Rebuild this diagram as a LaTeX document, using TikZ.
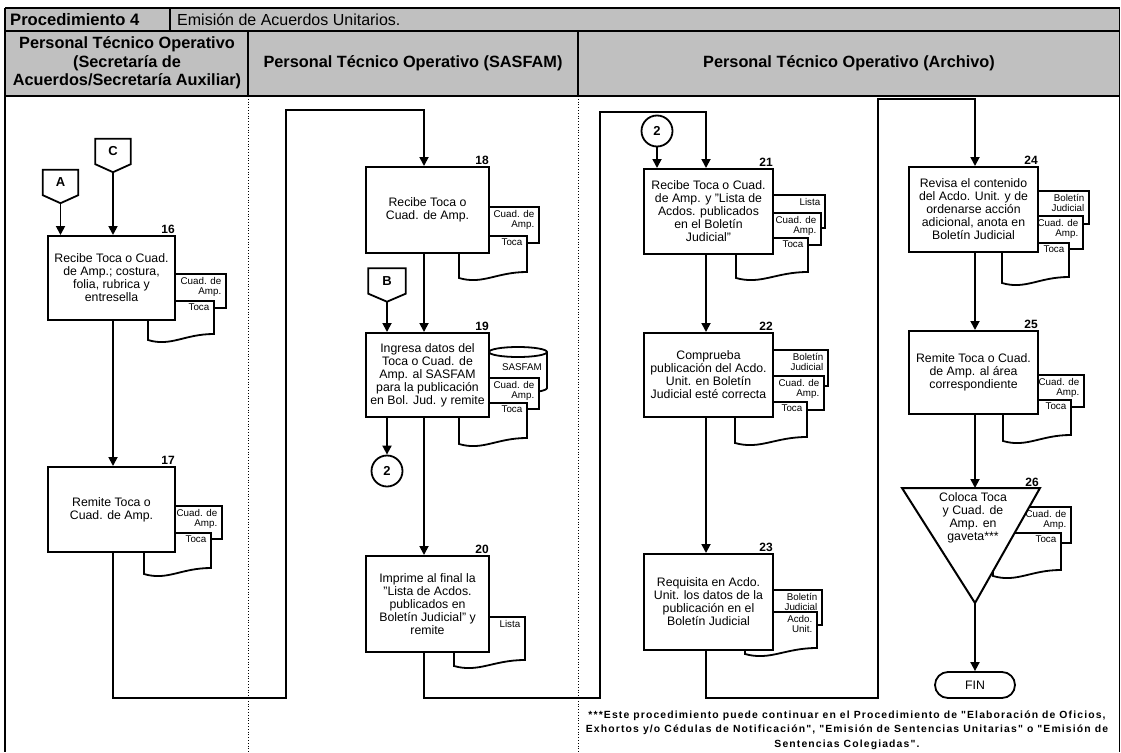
\documentclass[tikz,border=0pt]{standalone}
\usepackage{fontspec}
\setmainfont{Liberation Sans}
\newfontfamily\notefont[LetterSpace=11]{Liberation Sans}
\usetikzlibrary{arrows.meta,calc}

% document symbol with a wavy bottom edge: name, x1, y1, x2, left-bottom y, label
\newcommand{\frontdoc}[6]{%
  \draw[docline] (#2,#3) -- (#4,#3) -- (#4,{#5-6})
    .. controls ({#2+0.55*(#4-#2)},{#5-6}) and ({#2+0.35*(#4-#2)},{#5+7}) .. (#2,#5) -- cycle;
  \node[doclabel] (#1) at ({#4-4.5},{#3+3}) {#6};
}
% document lying behind another one (only its upper part shows)
\newcommand{\backdoc}[6]{%
  \draw[docline] (#2,#3) rectangle (#4,#5);
  \node[doclabel] (#1) at ({#4-4.5},{#3+3}) {#6};
}
% off-page connector: name, centre x, centre y, width, letter
\newcommand{\offpage}[5]{%
  \node[conn, minimum width=#4pt] (#1) at (#2,#3) {#5};
  \coordinate (#1-tip) at ($(#1.south)+(0,8)$);
  \draw[line width=1.8pt] (#1.north west) -- (#1.north east) -- (#1.south east) -- (#1-tip) -- (#1.south west) -- cycle;
}

\tikzset{
  hdrfill/.style={fill=hdrgray},
  frame/.style={line width=1.8pt},
  lanesep/.style={line width=0.8pt, dotted},
  box/.style={draw, line width=2pt, fill=white, align=center, inner sep=1pt,
    font=\fontsize{12.3}{13}\selectfont},
  num/.style={anchor=south east, inner sep=1pt, font=\bfseries\fontsize{12}{13}\selectfont},
  flow/.style={line width=1.8pt, -{Triangle[width=9pt,length=9pt]}},
  shapeline/.style={line width=1.8pt, fill=white},
  docline/.style={line width=1.8pt, fill=white},
  doclabel/.style={anchor=north east, inner sep=0pt, align=right,
    font=\fontsize{9.8}{10.5}\selectfont},
  conn/.style={minimum height=25pt, inner sep=0pt, font=\bfseries\fontsize{13}{14}\selectfont},
  onpage/.style={draw, circle, line width=1.8pt, fill=white, minimum size=31pt, inner sep=0pt,
    font=\bfseries\fontsize{13}{14}\selectfont},
  lanehead/.style={align=center, font=\bfseries\fontsize{16.3}{18.4}\selectfont},
}
\definecolor{hdrgray}{RGB}{192,192,192}

\begin{document}
\begin{tikzpicture}[x=1pt,y=-1pt]
\useasboundingbox (0,0) rectangle (1121,752);

% ---------- header ----------
\fill[hdrfill] (5,8) rectangle (1119.5,96);
\draw[frame] (5,8) -- (1119.5,8);
\draw[frame] (5,31) -- (1119.5,31);
\draw[frame] (5,96) -- (1119.5,96);
\draw[frame] (5,8) -- (5,752);
\draw[frame] (1119.5,8) -- (1119.5,752);
\draw[frame] (170,8) -- (170,31);
\draw[frame] (248,31) -- (248,96);
\draw[frame] (578,31) -- (578,96);
\draw[lanesep] (248,96) -- (248,752);
\draw[lanesep] (578,96) -- (578,752);

\node[anchor=west, inner sep=0pt, font=\bfseries\fontsize{16.6}{18}\selectfont] (proc) at (10,19.5) {Procedimiento 4};
\node[anchor=west, inner sep=0pt, font=\fontsize{16}{18}\selectfont] (title) at (177,19.5) {Emisión de Acuerdos Unitarios.};
\node[lanehead] (lane1) at (127,63) {Personal Técnico Operativo\\(Secretaría de\\Acuerdos/Secretaría Auxiliar)};
\node[lanehead] (lane2) at (413,63.5) {Personal Técnico Operativo (SASFAM)};
\node[lanehead] (lane3) at (849,63.5) {Personal Técnico Operativo (Archivo)};

% vertical guides of the flow lines
\coordinate (v1) at (113,0);
\coordinate (v2) at (424,0);
\coordinate (v3) at (706,0);
\coordinate (v4) at (975,0);

% ---------- documents (drawn first, the activities cover them) ----------
\backdoc{d16a}{150}{274}{226}{308}{Cuad. de\\Amp.}
\frontdoc{d16b}{148}{301}{214}{340}{Toca}
\backdoc{d17a}{150}{506}{222}{539}{Cuad. de\\Amp.}
\frontdoc{d17b}{144}{533}{211}{574}{Toca}
\backdoc{d18a}{470}{207}{539}{243}{Cuad. de\\Amp.}
\frontdoc{d18b}{459}{236}{527}{278}{Toca}
% database cylinder
\draw[docline] (489,352) -- (489,388) arc[start angle=180, end angle=360, x radius=29pt, y radius=5pt]
  -- (547,352) arc[start angle=0, end angle=180, x radius=29pt, y radius=5pt] -- cycle;
\draw[line width=1.8pt] (489,352) arc[start angle=180, end angle=360, x radius=29pt, y radius=5pt];
\node[doclabel, anchor=center] (db19) at (522,367) {SASFAM};
\backdoc{d19a}{470}{378}{539}{409}{Cuad. de\\Amp.}
\frontdoc{d19b}{459}{403}{527}{444}{Toca}
\frontdoc{d20}{454}{617}{525}{666}{Lista}
\backdoc{d21a}{750}{195}{825}{228}{Lista}
\backdoc{d21b}{750}{213}{821}{245}{Cuad. de\\Amp.}
\frontdoc{d21c}{736}{238}{808}{278}{Toca}
\backdoc{d22a}{750}{350}{828}{386}{Boletín\\Judicial}
\backdoc{d22b}{750}{376}{824}{410}{Cuad. de\\Amp.}
\frontdoc{d22c}{735}{402}{807}{443}{Toca}
\backdoc{d23a}{750}{590}{822}{625}{Boletín\\Judicial}
\frontdoc{d23b}{745}{612}{817}{654}{Acdo.\\Unit.}
\backdoc{d24a}{1010}{191}{1089}{224}{Boletín\\Judicial}
\backdoc{d24b}{1010}{216}{1083}{249}{Cuad. de\\Amp.}
\frontdoc{d24c}{1002}{243}{1069}{283}{Toca}
\backdoc{d25a}{1010}{375}{1084}{407}{Cuad. de\\Amp.}
\frontdoc{d25b}{1003}{400}{1071}{441}{Toca}
\backdoc{d26a}{1000}{507}{1071}{543}{Cuad. de\\Amp.}
\frontdoc{d26b}{993}{533}{1061}{576}{Toca}

% ---------- activities ----------
\node[box, minimum width=127pt, minimum height=84pt] (b16) at (111.5,278) {Recibe Toca o Cuad.\\de Amp.; costura,\\folia, rubrica y\\entresella};
\node[num] (n16) at (b16.north east) {16};
\node[box, minimum width=127pt, minimum height=85pt] (b17) at (111.5,509.5) {Remite Toca o\\Cuad. de Amp.};
\node[num] (n17) at (b17.north east) {17};
\node[box, minimum width=123pt, minimum height=86pt] (b18) at (427.5,210) {Recibe Toca o\\Cuad. de Amp.};
\node[num] (n18) at (b18.north east) {18};
\node[box, minimum width=123pt, minimum height=84pt] (b19) at (427.5,375) {Ingresa datos del\\Toca o Cuad. de\\Amp. al SASFAM\\para la publicación\\en Bol. Jud. y remite};
\node[num] (n19) at (b19.north east) {19};
\node[box, minimum width=123pt, minimum height=96pt] (b20) at (427.5,604) {Imprime al final la\\"Lista de Acdos.\\publicados en\\Boletín Judicial" y\\remite};
\node[num] (n20) at (b20.north east) {20};
\node[box, minimum width=129pt, minimum height=85pt] (b21) at (708.5,211.5) {Recibe Toca o Cuad.\\de Amp. y "Lista de\\Acdos. publicados\\en el Boletín\\Judicial"};
\node[num] (n21) at (b21.north east) {21};
\node[box, minimum width=129pt, minimum height=84pt] (b22) at (708.5,375) {Comprueba\\publicación del Acdo.\\Unit. en Boletín\\Judicial esté correcta};
\node[num] (n22) at (b22.north east) {22};
\node[box, minimum width=129pt, minimum height=96pt] (b23) at (708.5,602) {Requisita en Acdo.\\Unit. los datos de la\\publicación en el\\Boletín Judicial};
\node[num] (n23) at (b23.north east) {23};
\node[box, minimum width=129pt, minimum height=85pt] (b24) at (973.5,209.5) {Revisa el contenido\\del Acdo. Unit. y de\\ordenarse acción\\adicional, anota en\\Boletín Judicial};
\node[num] (n24) at (b24.north east) {24};
\node[box, minimum width=129pt, minimum height=83pt] (b25) at (973.5,372.5) {Remite Toca o Cuad.\\de Amp. al área\\correspondiente};
\node[num] (n25) at (b25.north east) {25};

% archive (inverted triangle)
\coordinate (t26top) at (975,488);
\coordinate (t26apex) at (975,603);
\draw[shapeline, line width=2pt] (902,488) -- (1040,488) -- (t26apex) -- cycle;
\node[align=center, inner sep=0pt, font=\fontsize{12.3}{12.8}\selectfont] (t26) at (973,518) {Coloca Toca\\y Cuad. de\\Amp. en\\gaveta***};
\node[num] (n26) at (1040,488) {26};

\node[draw, line width=1.8pt, rounded corners=13pt, minimum width=80pt, minimum height=26pt,
  inner sep=0pt, font=\fontsize{12.3}{13}\selectfont] (fin) at (975,685) {FIN};

% ---------- connectors ----------
\offpage{A}{60.5}{182.5}{35}{A}
\offpage{C}{113}{151.5}{35}{C}
\offpage{B}{387}{281}{37}{B}
\node[onpage] (c2a) at (387,471) {2};
\node[onpage] (c2b) at (657,131) {2};

\coordinate (k1) at (286,698);
\coordinate (k2) at (286,110);
\coordinate (k3) at (600,698);
\coordinate (k4) at (600,112);
\coordinate (k5) at (878,698);
\coordinate (k6) at (878,99);

\draw[flow] (A-tip) -- (A-tip |- b16.north);
\draw[flow] (C-tip) -- (C-tip |- b16.north);
\draw[flow] (b16.south -| v1) -- (b17.north -| v1);
\draw[flow] (b17.south -| v1) |- (k1) -- (k2) -| (b18.north -| v2);
\draw[flow] (b18.south -| v2) -- (b19.north -| v2);
\draw[flow] (B-tip) -- (B-tip |- b19.north);
\draw[flow] (b19.south -| c2a) -- (c2a.north);
\draw[flow] (b19.south -| v2) -- (b20.north -| v2);
\draw[flow] (b20.south -| v2) |- (k3) -- (k4) -| (b21.north -| v3);
\draw[flow] (c2b.south) -- (c2b.south |- b21.north);
\draw[flow] (b21.south -| v3) -- (b22.north -| v3);
\draw[flow] (b22.south -| v3) -- (b23.north -| v3);
\draw[flow] (b23.south -| v3) |- (k5) -- (k6) -| (b24.north -| v4);
\draw[flow] (b24.south -| v4) -- (b25.north -| v4);
\draw[flow] (b25.south -| v4) -- (t26top);
\draw[flow] (t26apex) -- (fin.north);

% ---------- note ----------
\node[align=center, inner sep=0pt, font=\notefont\bfseries\fontsize{10.4}{14.5}\selectfont] (note) at (847,730)
  {***Este procedimiento puede continuar en el Procedimiento de "Elaboración de Oficios,\\
   Exhortos y/o Cédulas de Notificación", "Emisión de Sentencias Unitarias" o "Emisión de\\
   Sentencias Colegiadas".};
\end{tikzpicture}
\end{document}
